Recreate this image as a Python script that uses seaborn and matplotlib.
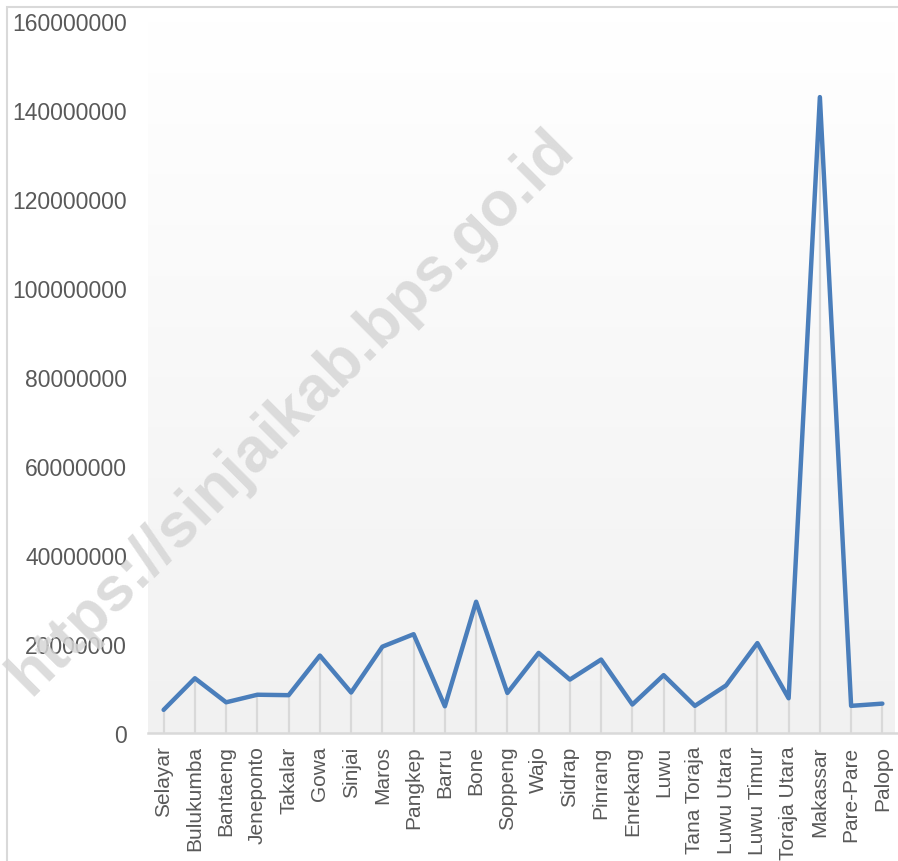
import numpy as np
import pandas as pd
import matplotlib
matplotlib.use("Agg")
import matplotlib.pyplot as plt
import seaborn as sns
from matplotlib.colors import LinearSegmentedColormap
from matplotlib.patches import Rectangle

# Data
regions = ["Selayar", "Bulukumba", "Bantaeng", "Jeneponto", "Takalar", "Gowa", "Sinjai",
           "Maros", "Pangkep", "Barru", "Bone", "Soppeng", "Wajo", "Sidrap", "Pinrang",
           "Enrekang", "Luwu", "Tana Toraja", "Luwu Utara", "Luwu Timur", "Toraja Utara",
           "Makassar", "Pare-Pare", "Palopo"]
values = [5200000, 12300000, 6900000, 8600000, 8500000, 17400000, 9100000,
          19400000, 22200000, 6000000, 29500000, 9000000, 18000000, 12000000, 16500000,
          6400000, 13000000, 6100000, 10700000, 20200000, 7800000,
          142900000, 6100000, 6600000]
y_ticks = [0, 20000000, 40000000, 60000000, 80000000, 100000000, 120000000, 140000000, 160000000]

df = pd.DataFrame({"region": regions, "value": values})
df["pos"] = np.arange(len(df))

sns.set_style("white")
plt.rcParams["font.family"] = ["Liberation Sans", "DejaVu Sans"]

fig = plt.figure(figsize=(8.98, 8.62), dpi=100)
ax = fig.add_axes([148 / 898, 128 / 862, 750 / 898, 712 / 862])

# Gradient background of the plot area
cmap = LinearSegmentedColormap.from_list("bg", ["#f1f1f1", "#ffffff"])
grad = np.linspace(0, 1, 256).reshape(-1, 1)
ax.imshow(grad, cmap=cmap, aspect="auto", origin="lower",
          extent=[-0.6, 23.4, 0, 160000000], zorder=0)

# Drop lines
ax.vlines(df["pos"], 0, df["value"], color="#d9d9d9", linewidth=1.6, zorder=1)

sns.lineplot(data=df, x="pos", y="value", ax=ax, color="#4a7ebb", linewidth=3.2, zorder=3)

ax.set_xlim(-0.5, 23.29)
ax.set_ylim(0, 160000000)
ax.set_yticks(y_ticks)
ax.set_yticklabels([str(v) for v in y_ticks])
ax.set_xticks(df["pos"])
ax.set_xticklabels(regions, rotation=90)
ax.set_xticks(np.arange(-0.5, 24, 1), minor=True)

ax.tick_params(axis="y", length=0, pad=15, labelsize=16.5, labelcolor="#595959")
ax.tick_params(axis="x", which="major", length=0, pad=9, labelsize=15, labelcolor="#595959")
ax.tick_params(axis="x", which="minor", length=6, width=1.2, color="#d9d9d9", direction="out")

for s in ["top", "right", "left"]:
    ax.spines[s].set_visible(False)
ax.spines["bottom"].set_color("#d9d9d9")
ax.spines["bottom"].set_linewidth(1.8)
ax.set_xlabel("")
ax.set_ylabel("")

# Chart border (top and left visible)
fig.patches.append(Rectangle((7 / 898, -0.1), 1.2, 1 - 8 / 862 + 0.1, transform=fig.transFigure,
                             fill=False, edgecolor="#d9d9d9", linewidth=1.5))

# Watermark
fig.text(292 / 898, 1 - 412 / 862, "https://sinjaikab.bps.go.id", rotation=45,
         fontsize=45, fontweight="bold", color="#d6d6d6", alpha=0.85,
         ha="center", va="center", rotation_mode="anchor", zorder=5)

fig.savefig("out.png", dpi=100)
